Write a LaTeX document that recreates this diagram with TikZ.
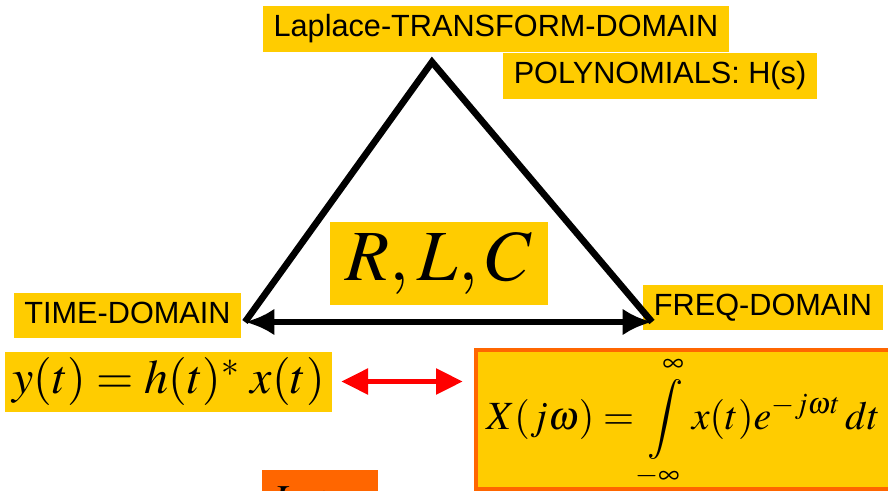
\documentclass[tikz,border=0pt]{standalone}
\usepackage{mathptmx}
\usepackage{fontspec}
\setmainfont{Liberation Sans}
\usetikzlibrary{arrows.meta}
\definecolor{giallo}{HTML}{FFCC00}
\definecolor{arancio}{HTML}{FF6600}

\begin{document}
\begin{tikzpicture}[x=0.75pt, y=-0.75pt, >=latex]
        % Stili
        \tikzstyle{etich} = [fill=giallo, font=\fontsize{23}{25}\selectfont, text height=16.5pt, text depth=4.7pt, inner xsep=8pt, inner ysep=6.5pt]
        \tikzstyle{formula} = [fill=giallo, inner sep=0pt]
        \tikzstyle{lato} = [line width=5pt, line join=miter]
        \tikzstyle{freccia} = [line width=5pt, {Latex[length=22pt,width=20pt]}-{Latex[length=22pt,width=20pt]}]
        \tikzstyle{rossa} = [draw=red, line width=3.5pt, {Triangle[length=20pt,width=19pt]}-{Triangle[length=20pt,width=19pt]}, red]

        \useasboundingbox (0,0) rectangle (888,490);

        % Vertici
        \coordinate (vert) at (432,62);
        \coordinate (sx) at (245,322);
        \coordinate (dx) at (652,322);

        % Nodi
        \node [etich] (laplace) at (496,29) {Laplace-TRANSFORM-DOMAIN};
        \node [etich] (poly) at (660,76) {POLYNOMIALS: H(s)};
        \node [etich] (time) at (127.5,315.5) {TIME-DOMAIN};
        \node [etich] (freq) at (763,307.5) {FREQ-DOMAIN};
        \node [formula, minimum width=163pt, minimum height=62pt, font=\fontsize{54}{58}\selectfont] (rlc) at (439,263.5) {$R,L,C$};
        \node [formula, minimum width=245pt, minimum height=45pt, font=\fontsize{36}{40}\selectfont] (conv) at (168.5,381.5) {$y(t)=h(t)^{\ast}\;x(t)$};

        % Riquadro Fourier
        \draw [arancio, fill=giallo, line width=2.5pt] (476,350) rectangle (900,489);
        \node [font=\fontsize{30}{34}\selectfont, anchor=west, inner sep=0pt] (fourier) at (486,423)
            {$\displaystyle X(j\omega)=\int\limits_{-\infty}^{\infty} x(t)e^{-j\omega t}\,dt$};
        \coordinate (fsx) at (476,381.5);

        % Riquadro in basso
        \fill [arancio] (262,470) rectangle (378,495);
        \node [font=\fontsize{32}{36}\selectfont, anchor=north west] (sotto) at (268,482) {$Let$};

        % Collegamenti
        \draw [lato] (sx) -- (vert) -- (dx);
        \draw [freccia] (sx) -- (dx);
        \draw [rossa, shorten <=7pt, shorten >=10pt] (conv.east) -- (fsx);

    \end{tikzpicture}
\end{document}
